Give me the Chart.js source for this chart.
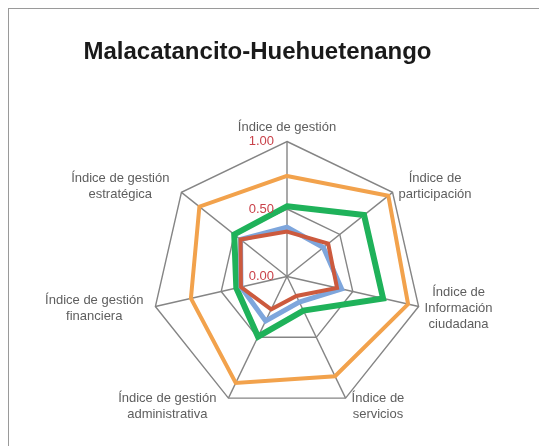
<!DOCTYPE html>
<html><head><meta charset="utf-8">
<script src="https://cdn.jsdelivr.net/npm/chart.js@4/dist/chart.umd.min.js"></script>
<style>
html,body{margin:0;padding:0;background:#fff;overflow:hidden;width:539px;height:446px;}
#frame{position:absolute;left:8px;top:8px;width:600px;height:600px;border:1.5px solid #9a9a9a;}
#wrap{position:absolute;left:0;top:0;width:539px;height:446px;}
</style></head><body>
<div id="frame"></div>
<div id="wrap"><canvas id="c" width="539" height="446"></canvas></div>
<script>
const categories = [
  ['Índice de gestión'],
  ['Índice de', 'participación'],
  ['Índice de', 'Información', 'ciudadana'],
  ['Índice de', 'servicios'],
  ['Índice de gestión', 'administrativa'],
  ['Índice de gestión', 'financiera'],
  ['Índice de gestión', 'estratégica']
];
const seriesOrange = [0.745, 0.96, 0.92, 0.82, 0.875, 0.73, 0.83];
const seriesGreen  = [0.52, 0.73, 0.73, 0.28, 0.495, 0.385, 0.50];
const seriesBlue   = [0.365, 0.345, 0.415, 0.21, 0.365, 0.35, 0.44];
const seriesRed    = [0.333, 0.39, 0.38, 0.16, 0.27, 0.35, 0.44];
const tickValues   = [0, 0.5, 1];
const titleText = 'Malacatancito-Huehuetenango';

const CX = 287, CY = 276.5, RADIUS = 135;

const labelPlugin = {
  id: 'customLabels',
  afterDatasetsDraw(chart) {
    const s = chart.scales.r, ctx = chart.ctx;
    ctx.save();
    ctx.font = '13px "Liberation Sans", Arial, sans-serif';
    ctx.fillStyle = '#5e5e5e';
    ctx.textBaseline = 'middle';
    const lh = 16;
    chart.data.labels.forEach((lab, i) => {
      const lines = Array.isArray(lab) ? lab : [lab];
      const v = s.getPointPosition(i, s.drawingArea);
      const dx = v.x - s.xCenter;
      const isTop = Math.abs(dx) < 2 && v.y < s.yCenter;
      const w = Math.max(...lines.map(l => ctx.measureText(l).width));
      const h = lines.length * lh;
      let cx, top;
      if (isTop) {
        cx = v.x;
        top = v.y - 6 - h;
      } else {
        const p = s.getPointPosition(i, s.drawingArea + 9);
        cx = dx > 0 ? v.x + 6 + w / 2 : v.x - 12 - w / 2;
        top = p.y - h / 2;
      }
      ctx.textAlign = 'center';
      lines.forEach((l, k) => ctx.fillText(l, cx, top + lh * k + lh / 2));
    });
    ctx.fillStyle = '#C9424A';
    ctx.textAlign = 'right';
    tickValues.forEach(val => {
      const y = s.yCenter - s.getDistanceFromCenterForValue(val);
      ctx.fillText(val.toFixed(2), s.xCenter - 13, y);
    });
    ctx.restore();
  }
};

new Chart(document.getElementById('c'), {
  type: 'radar',
  data: {
    labels: categories,
    datasets: [
      { label: 'Serie 4', data: seriesRed, borderColor: '#CC5A3E', borderWidth: 4, order: 1 },
      { label: 'Serie 3', data: seriesBlue, borderColor: '#7EA6DC', borderWidth: 5, order: 2 },
      { label: 'Serie 2', data: seriesGreen, borderColor: '#1FB25A', borderWidth: 6, order: 3 },
      { label: 'Serie 1', data: seriesOrange, borderColor: '#F2A24C', borderWidth: 4, order: 4 }
    ]
  },
  options: {
    responsive: false,
    animation: false,
    devicePixelRatio: 1,
    layout: { padding: { top: 38, right: 24, left: 0, bottom: 0 } },
    elements: {
      point: { radius: 0, hoverRadius: 0 },
      line: { tension: 0, fill: false, borderJoinStyle: 'miter' }
    },
    plugins: {
      legend: { display: false },
      tooltip: { enabled: false },
      title: {
        display: true,
        text: titleText,
        color: '#1a1a1a',
        font: { family: '"Liberation Sans", Arial, sans-serif', size: 24, weight: 'bold', lineHeight: 1.2 },
        padding: { top: 0, bottom: 0 }
      }
    },
    scales: {
      r: {
        min: 0, max: 1,
        ticks: { stepSize: 0.5, display: false },
        grid: { color: '#858585', lineWidth: 1.4 },
        angleLines: { color: '#858585', lineWidth: 1.4 },
        pointLabels: { display: false },
        afterFit(scale) {
          scale.xCenter = CX;
          scale.yCenter = CY;
          scale.drawingArea = RADIUS;
        }
      }
    }
  },
  plugins: [labelPlugin]
});
</script>
</body></html>
